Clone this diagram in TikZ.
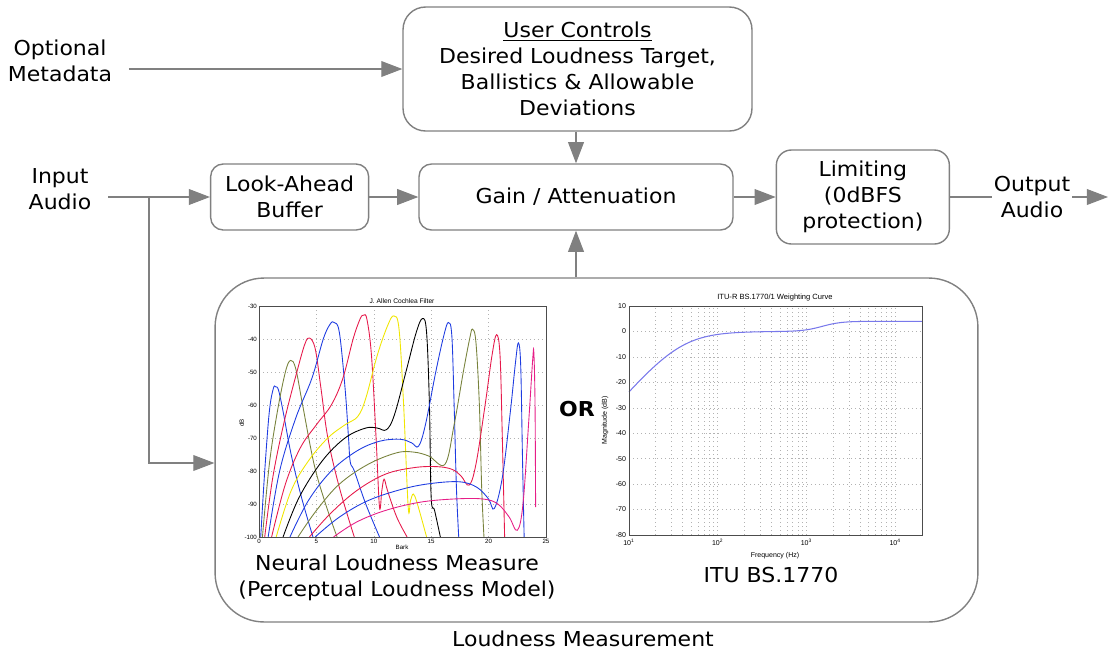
\documentclass[tikz,border=0pt]{standalone}
\usepackage{fontspec}
\setmainfont[FakeStretch=1.07]{DejaVu Sans}
\newfontfamily\plotfont{Liberation Sans}
\usetikzlibrary{positioning, arrows.meta}
\definecolor{edgegray}{RGB}{128,128,128}
\definecolor{cblue}{RGB}{30,60,225}
\definecolor{colive}{RGB}{120,130,60}
\definecolor{cred}{RGB}{230,25,75}
\definecolor{cyellow}{RGB}{240,230,0}
\definecolor{cmagenta}{RGB}{230,30,135}
\definecolor{itublue}{RGB}{120,120,235}

\begin{document}
\begin{tikzpicture}[x=0.02cm, y=-0.02cm, node distance=0.85cm, >={Triangle[length=12pt, width=9pt]}, font=\fontsize{11.7}{14.7}\selectfont]
    \tikzstyle{block} = [draw=edgegray, line width=0.8pt, rounded corners=0.25cm, align=center, inner sep=2pt]
    \tikzstyle{flow} = [->, draw=edgegray, line width=0.6pt]
    \tikzstyle{gridline} = [gray!60, dotted, line width=0.3pt]
    \tikzstyle{axis} = [black!70, line width=0.35pt]

    \useasboundingbox (0,0) rectangle (1109,650);

    \node[block, minimum width=6.98cm, minimum height=2.48cm, rounded corners=0.45cm] (ctrl) at (577.5,69) {\underline{User Controls}\\Desired Loudness Target,\\Ballistics \& Allowable\\Deviations};
    \node[block, minimum width=6.28cm, minimum height=1.32cm] (gain) at (576,197) {Gain / Attenuation};
    \node[block, minimum width=3.16cm, minimum height=1.32cm, left=0.98cm of gain] (buffer) {Look-Ahead\\Buffer};
    \node[block, minimum width=3.46cm, minimum height=1.88cm, rounded corners=0.3cm, right=0.84cm of gain] (limit) {Limiting\\(0dBFS\\protection)};
    \node[block, minimum width=15.26cm, minimum height=6.88cm, rounded corners=0.98cm] (meas) at (596.5,450) {};

    \node[align=center] (meta) at (60,61) {Optional\\Metadata};
    \node[align=center] (input) at (60,189) {Input\\Audio};
    \node (measlabel) at (583,639) {Loudness Measurement};
    \node (or) at (577,409) {\textbf{OR}};
    \node[align=center] (neural) at (397,578) {Neural Loudness Measure\\(Perceptual Loudness Model)};
    \node (itu) at (771,575) {ITU BS.1770};

    \coordinate (split) at (149,197);
    \coordinate (out) at (1108,197);

    \draw[flow] ([xshift=6pt]meta.east |- ctrl.west) -- (ctrl.west);
    \draw[flow] ([xshift=6pt]input.east |- buffer.west) -- (buffer.west);
    \draw[flow] (split) |- ([yshift=-0.26cm]meas.west);
    \draw[flow] (buffer) -- (gain);
    \draw[flow] (gain) -- (limit);
    \draw[flow] (ctrl.south -| gain.north) -- (gain.north);
    \draw[flow] (meas.north -| gain.south) -- (gain.south);
    \draw[flow] (limit) -- (out);
    \node[align=center, fill=white, inner sep=1pt] (output) at (1032,197) {Output\\Audio};

    % cochlea filter bank, dB against Bark
    \begin{scope}[shift={(259,207)}, x=0.2296cm, y=0.066cm, font=\plotfont\fontsize{3.5}{4}\selectfont]
        \foreach \b in {5,10,15,20} \draw[gridline] (\b,-100) -- (\b,-30);
        \foreach \d in {-40,-50,...,-90} \draw[gridline] (0,\d) -- (25,\d);
        \foreach \b in {0,5,...,25} \node[below, inner sep=1pt] at (\b,-100) {\b};
        \foreach \d in {-30,-40,...,-100} \node[left, inner sep=1pt] at (0,\d) {\d};
        \begin{scope}
            \clip (0,-100) rectangle (25,-30);
            \draw[cblue, line width=0.5pt] plot[smooth, tension=0.6] coordinates {(0.15,-100) (0.5,-80) (0.9,-62) (1.25,-55) (1.45,-54.5) (1.7,-55.5) (2.1,-62) (2.8,-75) (3.7,-88) (4.7,-100)};
            \draw[colive, line width=0.5pt] plot[smooth, tension=0.6] coordinates {(0.3,-100) (0.9,-78) (1.6,-62) (2.3,-50) (2.75,-46.5) (3.2,-49) (3.8,-60) (4.8,-78) (5.8,-90) (6.8,-100)};
            \draw[cred, line width=0.5pt] plot[smooth, tension=0.6] coordinates {(0.5,-100) (1.2,-82) (2.2,-65) (3.3,-50) (4.0,-41.5) (4.4,-39.7) (4.9,-43) (5.4,-55) (6.0,-70) (7.0,-85) (8.3,-100)};
            \draw[cblue, line width=0.5pt] plot[smooth, tension=0.6] coordinates {(0.8,-100) (1.8,-80) (3.2,-64) (4.6,-52) (5.6,-40) (6.2,-35.5) (6.55,-35) (7.0,-38) (7.5,-55) (7.8,-70) (7.95,-77.3) (8.3,-80) (9.3,-90) (10.5,-100)};
            \draw[cred, line width=0.5pt] plot[smooth, tension=0.6] coordinates {(1.1,-100) (2.3,-84) (3.6,-73) (5.0,-66) (6.3,-60) (7.3,-52) (8.2,-40) (8.8,-34) (9.1,-32.8) (9.4,-34) (9.8,-45) (10.2,-70) (10.5,-91) (10.7,-86) (10.9,-82.5) (11.2,-86) (12.0,-94) (12.9,-100)};
            \draw[cyellow, line width=0.5pt] plot[smooth, tension=0.6] coordinates {(1.5,-100) (2.8,-86) (4.3,-77) (6.0,-70) (7.5,-66) (8.6,-63.5) (9.3,-58) (10.3,-45) (11.2,-36) (11.75,-33) (12.2,-37) (12.6,-60) (13.0,-91) (13.2,-89) (13.45,-87) (13.8,-90) (14.6,-100)};
            \draw[black, line width=0.5pt] plot[smooth, tension=0.6] coordinates {(2.1,-100) (3.5,-88) (5.5,-77) (7.5,-70) (9.3,-67) (10.3,-67) (11.1,-67.5) (11.8,-63) (12.8,-50) (13.7,-38) (14.25,-33.8) (14.6,-38) (14.85,-60) (15.0,-88) (15.3,-92) (15.8,-100)};
            \draw[cblue, line width=0.5pt] plot[smooth, tension=0.6] coordinates {(2.7,-100) (4.3,-89) (6.3,-80) (8.5,-74) (10.5,-71) (12.3,-70.4) (13.3,-71.5) (13.9,-72.5) (14.5,-66) (15.4,-50) (16.1,-39) (16.5,-35) (16.8,-39) (17.0,-60) (17.2,-85) (17.4,-100)};
            \draw[colive, line width=0.5pt] plot[smooth, tension=0.6] coordinates {(3.4,-100) (5.0,-92) (7.0,-84) (9.5,-78) (12.0,-74.5) (13.5,-74.3) (14.8,-75.5) (16.2,-78) (17.0,-66) (17.8,-50) (18.35,-40) (18.6,-37) (18.9,-41) (19.2,-60) (19.4,-85) (19.6,-100)};
            \draw[cred, line width=0.5pt] plot[smooth, tension=0.6] coordinates {(4.4,-100) (6.2,-93) (8.5,-86) (11,-81) (13.5,-79) (15.5,-78.7) (16.8,-79.5) (17.6,-81.5) (18.3,-84.3) (18.9,-78) (19.7,-60) (20.3,-45) (20.7,-38.7) (21.0,-45) (21.2,-70) (21.4,-100)};
            \draw[cblue, line width=0.5pt] plot[smooth, tension=0.6] coordinates {(4.9,-100) (7.0,-94) (9.5,-89) (12.5,-85.5) (15,-83.8) (17.5,-83.3) (19,-85) (20,-88.5) (20.5,-91.4) (21.2,-82) (21.9,-62) (22.35,-47) (22.6,-41.2) (22.8,-48) (22.95,-75) (23.1,-100)};
            \draw[cmagenta, line width=0.5pt] plot[smooth, tension=0.6] coordinates {(6.5,-100) (8.5,-95.5) (11,-92) (14,-89.5) (17,-88.5) (19.5,-88.5) (20.8,-90) (21.8,-94) (22.5,-98) (23.0,-90) (23.5,-65) (23.85,-46) (23.95,-44.4) (24.05,-60) (24.1,-91)};
        \end{scope}
        \draw[axis] (0,-100) rectangle (25,-30);
        \node[font=\plotfont\fontsize{3.8}{4}\selectfont] (cochleatitle) at (12.46,-28.5) {J. Allen Cochlea Filter};
        \node (barklabel) at (12.46,-103.2) {Bark};
        \node[rotate=90] (dblabel) at (-1.5,-65.5) {dB};
    \end{scope}

    % K-weighting response, dB against log frequency
    \begin{scope}[shift={(629,331.44)}, x=1.7752cm, y=0.05089cm, font=\plotfont\fontsize{4}{4.5}\selectfont]
        \foreach \dec in {0,1,2} {
            \foreach \m in {2,...,9} \draw[gridline] ({\dec+log10(\m)},-80) -- ({\dec+log10(\m)},10);
        }
        \foreach \dec in {1,2,3} \draw[gridline] (\dec,-80) -- (\dec,10);
        \foreach \d in {0,-10,...,-70} \draw[gridline] (0,\d) -- (3.30103,\d);
        \foreach \d in {10,0,...,-80} \node[left, inner sep=1.5pt] at (0,\d) {\d};
        \foreach \e [count=\i from 0] in {1,2,3,4} \node[below, inner sep=2pt] at (\i,-80) {10\textsuperscript{\e}};
        \draw[itublue, line width=0.6pt] plot[domain=0:3.30103, samples=100, smooth] (\x, {-20*log10(1+10^(max(-3.5,1.1596-2*\x))) + 4/(1+10^(max(-3.5,min(4,4*(2.176-\x)))))});
        \draw[axis] (0,-80) rectangle (3.30103,10);
        \node[font=\plotfont\fontsize{4.3}{5}\selectfont] (itutitle) at (1.645,13.5) {ITU-R BS.1770/1 Weighting Curve};
        \node (freqlabel) at (1.645,-88.3) {Frequency (Hz)};
        \node[rotate=90] (maglabel) at (-0.27,-35) {Magnitude (dB)};
    \end{scope}
\end{tikzpicture}
\end{document}
